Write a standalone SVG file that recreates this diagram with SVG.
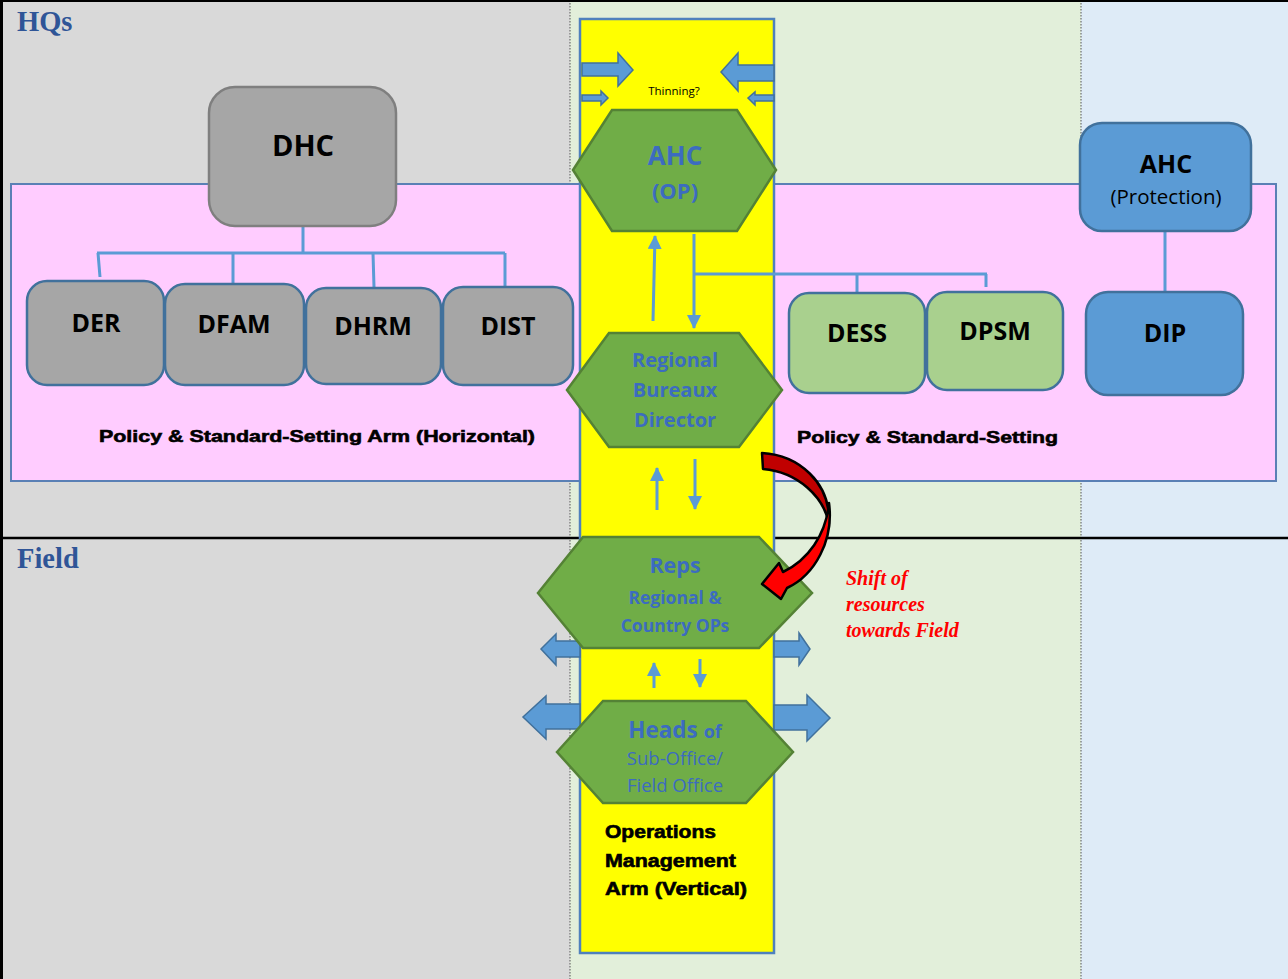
<svg xmlns="http://www.w3.org/2000/svg" width="1288" height="979" viewBox="0 0 1288 979">
  <style>
    .lbl { font-family: "Open Sans", "Noto Sans", sans-serif; font-weight: bold; text-anchor: middle; fill: #000; }
    .hex { fill: #70ad47; stroke: #548235; stroke-width: 2.5; }
    .hexT { font-family: "Open Sans", "Noto Sans", sans-serif; font-weight: bold; text-anchor: middle; fill: #3c6cc0; }
    .hexR { font-family: "Open Sans", "Noto Sans", sans-serif; font-weight: normal; text-anchor: middle; fill: #3c6cc0; }
    .grayBox { fill: #a6a6a6; stroke: #41719c; stroke-width: 2.5; }
    .greenBox { fill: #a9d08e; stroke: #41719c; stroke-width: 2.5; }
    .blueBox { fill: #5b9bd5; stroke: #41719c; stroke-width: 2.5; }
    .wire { fill: none; stroke: #5b9bd5; stroke-width: 3; }
    .block { fill: #5b9bd5; stroke: #41719c; stroke-width: 1.5; }
    .heavy { font-family: "Liberation Sans", Arial, sans-serif; font-weight: bold; fill: #000; stroke: #000; stroke-width: 0.6; }
    .zone { font-family: "Liberation Serif", "Times New Roman", serif; font-weight: bold; font-size: 28.5px; fill: #2f5597; }
  </style>
  <defs>
    <marker id="tip" viewBox="0 0 14 16" refX="13" refY="7" markerWidth="14" markerHeight="16" markerUnits="userSpaceOnUse" orient="auto">
      <path d="M0,0 L14,7 L0,14 Z" fill="#5b9bd5"/>
    </marker>
  </defs>

  <!-- background columns -->
  <rect x="0" y="0" width="570" height="979" fill="#d9d9d9"/>
  <rect x="570" y="0" width="511" height="979" fill="#e2efda"/>
  <rect x="1081" y="0" width="207" height="979" fill="#deebf7"/>
  <line x1="570" y1="0" x2="570" y2="979" stroke="#555" stroke-width="1" stroke-dasharray="1.5,1.5"/>
  <line x1="1081" y1="0" x2="1081" y2="979" stroke="#555" stroke-width="1" stroke-dasharray="1.5,1.5"/>
  <line x1="0" y1="538" x2="1288" y2="538" stroke="#000" stroke-width="2.5"/>
  <line x1="0" y1="1" x2="1288" y2="1" stroke="#000" stroke-width="2"/>
  <line x1="1.5" y1="0" x2="1.5" y2="979" stroke="#000" stroke-width="3"/>

  <text class="zone" x="17" y="31">HQs</text>
  <text class="zone" x="17" y="568">Field</text>

  <!-- horizontal policy arms -->
  <rect x="11" y="184" width="570" height="297" fill="#ffccff" stroke="#5a80b5" stroke-width="2"/>
  <rect x="774" y="184" width="502" height="297" fill="#ffccff" stroke="#5a80b5" stroke-width="2"/>
  <text class="heavy" x="99" y="442" font-size="17" textLength="436" lengthAdjust="spacingAndGlyphs">Policy &amp; Standard-Setting Arm (Horizontal)</text>
  <text class="heavy" x="797" y="443" font-size="17" textLength="261" lengthAdjust="spacingAndGlyphs">Policy &amp; Standard-Setting</text>

  <!-- vertical operations arm -->
  <rect x="580" y="19" width="194" height="934" fill="#ffff00" stroke="#4f81bd" stroke-width="2.5"/>
  <text class="heavy" x="605" y="838" font-size="18" textLength="111" lengthAdjust="spacingAndGlyphs">Operations</text>
  <text class="heavy" x="605" y="867" font-size="18" textLength="131" lengthAdjust="spacingAndGlyphs">Management</text>
  <text class="heavy" x="605" y="895" font-size="18" textLength="142" lengthAdjust="spacingAndGlyphs">Arm (Vertical)</text>
  <text x="674" y="95" font-family="'Open Sans', 'Noto Sans', sans-serif" font-size="11.5" text-anchor="middle" fill="#000">Thinning?</text>

  <!-- connectors -->
  <g id="connectors">
    <!-- DHC tree -->
    <path class="wire" d="M303,226 V253 M97,253 H505 M98,253 L100,277 M233,253 V283 M373,253 L374,287 M505,253 V286"/>
    <!-- AHC (OP) tree -->
    <path class="wire" d="M694,274 H987 M857,274 V293 M986,274 V287"/>
    <path class="wire" d="M694,234 V328" marker-end="url(#tip)"/>
    <path class="wire" d="M653,321 L655,236" marker-end="url(#tip)"/>
    <path class="wire" d="M1165,232 V292"/>
    <!-- RBD / Reps -->
    <path class="wire" d="M657,510 V468" marker-end="url(#tip)"/>
    <path class="wire" d="M695,459 V509" marker-end="url(#tip)"/>
    <!-- Reps / Heads -->
    <path class="wire" d="M654,688 V663" stroke-width="2.5" marker-end="url(#tip)"/>
    <path class="wire" d="M700,659 V687" stroke-width="2.5" marker-end="url(#tip)"/>

    <!-- thinning block arrows -->
    <polygon class="block" points="582,63 618,63 618,53 633,70 618,86 618,76 582,76"/>
    <polygon class="block" points="774,65 738,65 738,53 721,72 738,91 738,81 774,81"/>
    <polygon class="block" points="582,95 601,95 601,91 608,98 601,105 601,101 582,101"/>
    <polygon class="block" points="774,95 755,95 755,92 748,98 755,105 755,101 774,101"/>

    <!-- outward block arrows -->
    <polygon class="block" points="580,641 556,641 556,634 541,649 556,665 556,657 580,657"/>
    <polygon class="block" points="774,641 799,641 799,633 810,649 799,665 799,657 774,657"/>
    <polygon class="block" points="580,704 546,704 546,696 523,717 546,739 546,729 580,729"/>
    <polygon class="block" points="774,705 807,705 807,695 830,718 807,741 807,730 774,730"/>
  </g>

  <!-- HQ nodes -->
  <g id="dhc">
    <rect x="209" y="87" width="187" height="139" rx="26" fill="#a6a6a6" stroke="#7f7f7f" stroke-width="2.5"/>
    <text class="lbl" x="303" y="156" font-size="29">DHC</text>
  </g>
  <g id="der">
    <rect class="grayBox" x="27" y="281" width="137" height="104" rx="20"/>
    <text class="lbl" x="96" y="332" font-size="25">DER</text>
  </g>
  <g id="dfam">
    <rect class="grayBox" x="165" y="284" width="139" height="101" rx="20"/>
    <text class="lbl" x="234" y="333" font-size="25">DFAM</text>
  </g>
  <g id="dhrm">
    <rect class="grayBox" x="306" y="288" width="135" height="96" rx="20"/>
    <text class="lbl" x="373" y="335" font-size="25">DHRM</text>
  </g>
  <g id="dist">
    <rect class="grayBox" x="443" y="287" width="130" height="98" rx="20"/>
    <text class="lbl" x="508" y="335" font-size="25">DIST</text>
  </g>
  <g id="dess">
    <rect class="greenBox" x="789" y="293" width="136" height="100" rx="20"/>
    <text class="lbl" x="857" y="342" font-size="25">DESS</text>
  </g>
  <g id="dpsm">
    <rect class="greenBox" x="927" y="292" width="136" height="98" rx="20"/>
    <text class="lbl" x="995" y="340" font-size="25">DPSM</text>
  </g>
  <g id="ahc-protection">
    <rect class="blueBox" x="1080" y="123" width="171" height="108" rx="22"/>
    <text class="lbl" x="1166" y="173" font-size="25">AHC</text>
    <text x="1166" y="204" font-family="'Open Sans', 'Noto Sans', sans-serif" font-size="20.5" text-anchor="middle" fill="#000">(Protection)</text>
  </g>
  <g id="dip">
    <rect class="blueBox" x="1086" y="292" width="157" height="103" rx="22"/>
    <text class="lbl" x="1165" y="342" font-size="25">DIP</text>
  </g>

  <!-- operations chain -->
  <g id="ahc-op">
    <polygon class="hex" points="573,170 612,110 737,110 776,170 737,231 612,231"/>
    <text class="hexT" x="675" y="165" font-size="26">AHC</text>
    <text class="hexT" x="675" y="199" font-size="22">(OP)</text>
  </g>
  <g id="rbd">
    <polygon class="hex" points="567,390 609,333 739,333 782,390 739,447 609,447"/>
    <text class="hexT" x="675" y="367" font-size="20">Regional</text>
    <text class="hexT" x="675" y="397" font-size="20">Bureaux</text>
    <text class="hexT" x="675" y="427" font-size="20">Director</text>
  </g>
  <g id="reps">
    <polygon class="hex" points="538,593 583,537 759,537 812,593 759,648 583,648"/>
    <text class="hexT" x="675" y="573" font-size="21.5">Reps</text>
    <text class="hexT" x="675" y="604" font-size="17.5">Regional &amp;</text>
    <text class="hexT" x="675" y="632" font-size="17.5">Country OPs</text>
  </g>
  <g id="heads">
    <polygon class="hex" points="557,752 603,701 746,701 793,752 746,803 603,803"/>
    <text class="hexT" x="675" y="738" font-size="22.5">Heads <tspan font-size="18">of</tspan></text>
    <text class="hexR" x="675" y="765" font-size="18.5">Sub-Office/</text>
    <text class="hexR" x="675" y="792" font-size="18.5">Field Office</text>
  </g>

  <!-- resource shift -->
  <g id="shift">
    <path d="M762,453 C798,455 831,482 829,524 C824,497 798,472 763,469 Z" fill="#c00000" stroke="#000" stroke-width="2.5" stroke-linejoin="round"/>
    <path d="M829,503 C834,540 815,575 787,588 L781,599 L762,584 L779,563 L783,572 C808,560 826,535 829,503 Z" fill="#ff0000" stroke="#000" stroke-width="2.5" stroke-linejoin="round"/>
    <text font-family="'Liberation Serif', 'Times New Roman', serif" font-weight="bold" font-style="italic" font-size="20" fill="#ff0000">
      <tspan x="846" y="585">Shift of</tspan>
      <tspan x="846" y="611">resources</tspan>
      <tspan x="846" y="637">towards Field</tspan>
    </text>
  </g>
</svg>
